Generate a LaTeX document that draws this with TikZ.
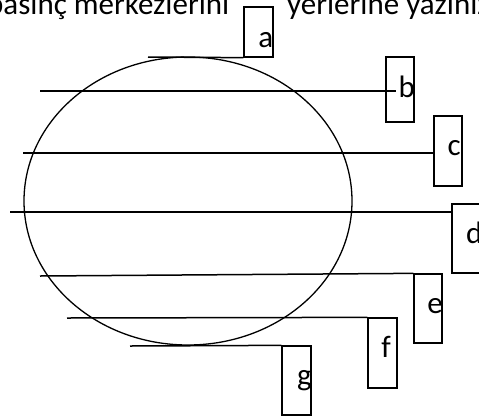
\documentclass[tikz,border=0pt]{standalone}
\usepackage{fontspec}
\setmainfont{Carlito}
\begin{document}
\begin{tikzpicture}[x=1pt,y=-1pt,
  box/.style={draw,line width=1.3pt,inner sep=0pt},
  lbl/.style={inner sep=0pt,font=\fontsize{31}{37}\selectfont},
  ln/.style={line width=1.5pt}]
\useasboundingbox (0,0) rectangle (479,416);
% top text
\node[lbl,anchor=base west] (t1) at (-13,14) {basınç merkezlerini};
\node[lbl,anchor=base west] (t2) at (287,14) {yerlerine yazınız};
% ellipse
\draw[line width=1.3pt] (188,201) ellipse [x radius=164, y radius=144];
% boxes
\node[box,minimum width=29pt,minimum height=50pt] (ba) at (258.5,32) {};
\node[box,minimum width=28pt,minimum height=65pt] (bb) at (400,89.5) {};
\node[box,minimum width=28pt,minimum height=70pt] (bc) at (448,151) {};
\node[box,minimum width=29pt,minimum height=69pt] (bd) at (466.5,238.5) {};
\node[box,minimum width=28pt,minimum height=69pt] (be) at (428,308.5) {};
\node[box,minimum width=29pt,minimum height=70pt] (bf) at (382.5,353) {};
\node[box,minimum width=29pt,minimum height=69pt] (bg) at (296.5,380.5) {};
% labels
\node[lbl,anchor=base east] (la) at (273.5,47) {a};
\node[lbl,anchor=base east] (lb) at (415,97) {b};
\node[lbl,anchor=base east] (lc) at (461,155) {c};
\node[lbl,anchor=base west] (ld) at (466,243) {d};
\node[lbl,anchor=base east] (le) at (443,313) {e};
\node[lbl,anchor=base east] (lf) at (391,357) {f};
\node[lbl,anchor=base east] (lg) at (312,385) {g};
% connector start/end points
\coordinate (sa) at (148,57);
\coordinate (sb) at (40,91);
\coordinate (eb) at (396,91);
\coordinate (sc) at (23,153);
\coordinate (sd) at (10,212);
\coordinate (se) at (40,276);
\coordinate (sf) at (67,318);
\coordinate (sg) at (130,346);
% connectors
\draw[ln] (sa) -- (ba.south west);
\draw[ln] (sb) -- (eb);
\draw[ln] (sc) -- (sc -| bc.west);
\draw[ln] (sd) -- (sd -| bd.west);
\draw[ln] (se) -- (be.north west);
\draw[ln] (sf) -- (bf.north west);
\draw[ln] (sg) -- (bg.north west);
\end{tikzpicture}
\end{document}
